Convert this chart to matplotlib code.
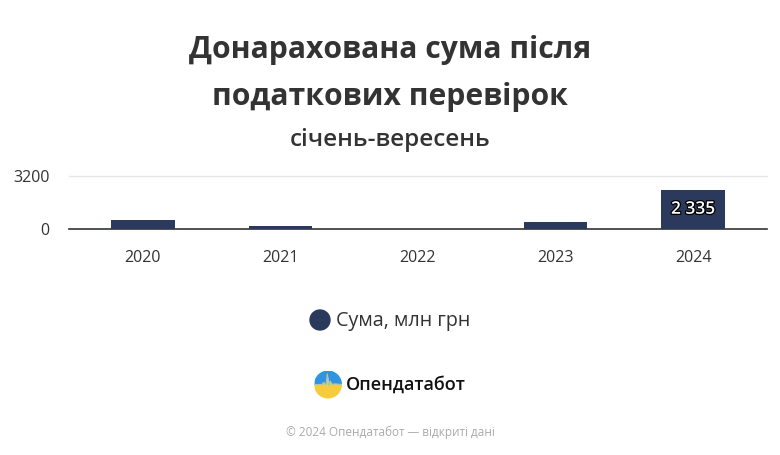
import numpy as np
import matplotlib.pyplot as plt
from matplotlib.patches import Circle, Ellipse
import matplotlib.patheffects as pe

plt.rcParams['font.family'] = ['Open Sans', 'DejaVu Sans']

years = ['2020', '2021', '2022', '2023', '2024']
amounts = [550, 170, 0, 420, 2335]
y_ticks = [0, 3200]
label_years = ['2024']

bar_color = '#2b3a5c'

fig = plt.figure(figsize=(7.8, 4.55), dpi=100)
W, H = 780, 455


def fx(px):
    return px / W


def fy(py):
    return 1 - py / H


# titles
fig.text(0.5, fy(50), 'Донарахована сума після', ha='center', va='center',
         fontsize=21.7, fontweight='bold', color='#333333')
fig.text(0.5, fy(97), 'податкових перевірок', ha='center', va='center',
         fontsize=21.7, fontweight='bold', color='#333333')
fig.text(0.5, fy(140), 'січень-вересень', ha='center', va='center',
         fontsize=17.5, fontweight='semibold', color='#333333')

# main axes
ax = fig.add_axes([fx(69), fy(229.3), fx(767 - 69), (229.3 - 175.7) / H])
x = np.arange(len(years))
bars = ax.bar(x, amounts, width=0.465, color=bar_color, zorder=3)
ax.set_xlim(-0.538, len(years) - 1 + 0.538)
ax.set_ylim(0, 3200)
ax.set_yticks(y_ticks)
ax.set_yticklabels([str(t) for t in y_ticks], fontsize=11.5, color='#333333')
ax.set_xticks(x)
ax.set_xticklabels(years, fontsize=11.5, color='#333333')
ax.tick_params(axis='both', length=0)
ax.tick_params(axis='x', pad=15)
ax.tick_params(axis='y', pad=14)
for s in ['top', 'right', 'left']:
    ax.spines[s].set_visible(False)
ax.spines['bottom'].set_color('#333333')
ax.spines['bottom'].set_linewidth(1.2)
ax.axhline(3200, color='#e6e6e6', lw=1, zorder=1, clip_on=False)

for i, (yr, v) in enumerate(zip(years, amounts)):
    if yr in label_years:
        t = ax.text(i, v * 0.5, f'{v:,}'.replace(',', ' '), ha='center', va='center',
                    fontsize=12.5, fontweight='semibold', color='white', zorder=4)
        t.set_path_effects([pe.withStroke(linewidth=1.8, foreground='black')])

# legend
fig.patches.append(Ellipse((fx(320), fy(320)), 20 / W, 20 / H, transform=fig.transFigure,
                           color=bar_color, figure=fig))
fig.text(fx(336), fy(321), 'Сума, млн грн', ha='left', va='center',
         fontsize=14.2, color='#333333')

# logo
lax = fig.add_axes([fx(314), fy(398.5), fx(28), 28 / H])
clip = Circle((0, 0), 1, transform=lax.transData)
wx = np.array([-1, -0.45, -0.3, -0.15, -0.05, 0.05, 0.15, 0.3, 0.45, 1])
wy = np.array([0.0, 0.0, 0.15, -0.05, 0.75, -0.1, 0.25, 0.0, 0.05, 0.0])
top = lax.fill_between(wx, wy, 1, color='#3393e3', lw=0)
bot = lax.fill_between(wx, -1, wy, color='#f4cc3c', lw=0)
ln, = lax.plot(wx, wy, color='#a8c8b0', lw=0.8)
for a in (top, bot, ln):
    a.set_clip_path(clip)
lax.set_xlim(-1, 1)
lax.set_ylim(-1, 1)
lax.axis('off')
fig.text(fx(346), fy(385), 'Опендатабот', ha='left', va='center',
         fontsize=13, fontweight='semibold', color='#111111')

# footer
fig.text(0.5, fy(432), '© 2024 Опендатабот — відкриті дані', ha='center', va='center',
         fontsize=8.5, color='#aaaaaa')

fig.savefig('out.png', dpi=100)
